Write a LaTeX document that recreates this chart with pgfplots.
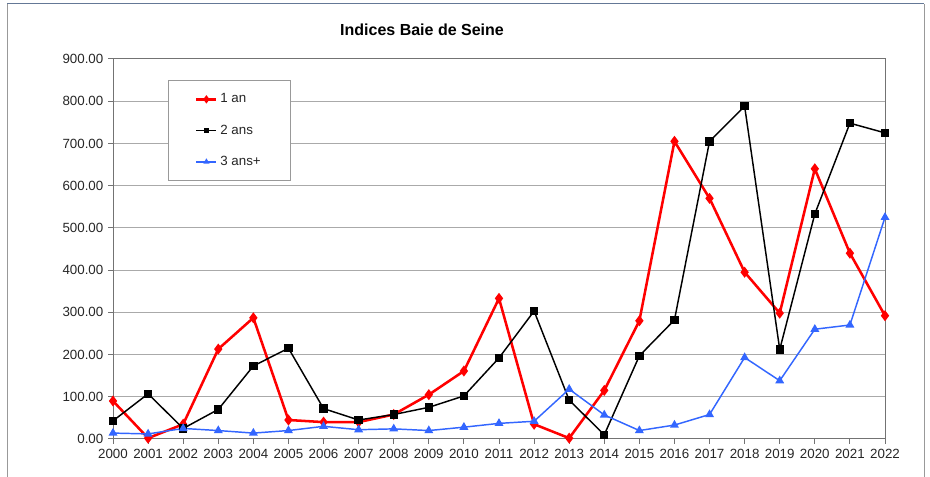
\documentclass[border=0pt]{standalone}
\usepackage{pgfplots}
\pgfplotsset{compat=1.18}
\usepackage{fontspec}
\setmainfont{Liberation Sans}
\definecolor{myred}{RGB}{255,0,0}
\definecolor{myblue}{RGB}{51,102,255}
\definecolor{gridgray}{RGB}{170,170,170}
\begin{document}
\begin{tikzpicture}[x=0.75pt,y=0.75pt]
\useasboundingbox (0,0) rectangle (930,477);
\draw[gray!80, line width=0.75pt] (7,0) -- (7,473);
\draw[gray!80, line width=0.75pt] (924,0) -- (924,473);
\draw[color={rgb,255:red,100;green,120;blue,150}, line width=0.75pt] (7,473) -- (924,473);
\node[font=\bfseries\fontsize{12}{14}\selectfont] at (422,447) {Indices Baie de Seine};
\begin{axis}[
  at={(84.75pt,28.5pt)}, anchor=south west,
  scale only axis, width=579pt, height=285pt,
  xmin=2000, xmax=2022, ymin=0, ymax=900,
  xtick={2000,2001,...,2022},
  ytick={0,100,...,900},
  ymajorgrids, grid style={gridgray, line width=0.75pt},
  axis line style={gray!90!black, line width=0.75pt},
  tick style={gray!90!black, line width=0.75pt},
  tick align=outside, major tick length=3.75pt,
  xtick pos=bottom, ytick pos=left,
  /pgf/number format/assume math mode=true,
  xticklabel style={/pgf/number format/1000 sep={}, font=\fontsize{10}{11}\selectfont, color=black!85},
  yticklabel style={/pgf/number format/.cd, fixed, fixed zerofill, precision=2, 1000 sep={}, /tikz/.cd, font=\fontsize{10}{11}\selectfont, color=black!85},
  legend style={at={(0.0712,0.945)}, anchor=north west, draw=gray!80, line width=0.75pt,
    font=\fontsize{10}{11}\selectfont, inner xsep=20pt, inner ysep=8pt, row sep=11pt,
    cells={anchor=west}, text=black!85},
  legend image code/.code={\draw[mark repeat=2,mark phase=2,mark size=1.6pt] plot coordinates {(0pt,0pt) (7.5pt,0pt) (15pt,0pt)};},
  clip=false,
]
\addplot[myred, line width=1.9pt, mark=diamond*, mark size=2.6pt, mark options={solid}] coordinates {
(2000,90) (2001,2) (2002,35) (2003,213) (2004,287) (2005,45) (2006,40) (2007,40) (2008,58) (2009,105) (2010,161) (2011,333) (2012,35) (2013,2) (2014,115) (2015,280) (2016,705) (2017,570) (2018,395) (2019,298) (2020,640) (2021,440) (2022,292)};
\addlegendentry{1 an}
\addplot[black, line width=1.1pt, mark=square*, mark size=2.6pt, mark options={solid}] coordinates {
(2000,43) (2001,107) (2002,25) (2003,70) (2004,173) (2005,215) (2006,72) (2007,45) (2008,58) (2009,75) (2010,102) (2011,192) (2012,303) (2013,92) (2014,10) (2015,197) (2016,282) (2017,705) (2018,788) (2019,212) (2020,533) (2021,748) (2022,725)};
\addlegendentry{2 ans}
\addplot[myblue, line width=1.1pt, mark=triangle*, mark size=2.8pt, mark options={solid}] coordinates {
(2000,14) (2001,12) (2002,25) (2003,20) (2004,14) (2005,20) (2006,30) (2007,22) (2008,24) (2009,20) (2010,28) (2011,37) (2012,42) (2013,118) (2014,57) (2015,20) (2016,33) (2017,58) (2018,193) (2019,138) (2020,260) (2021,270) (2022,525)};
\addlegendentry{3 ans+}
\end{axis}
\end{tikzpicture}
\end{document}
